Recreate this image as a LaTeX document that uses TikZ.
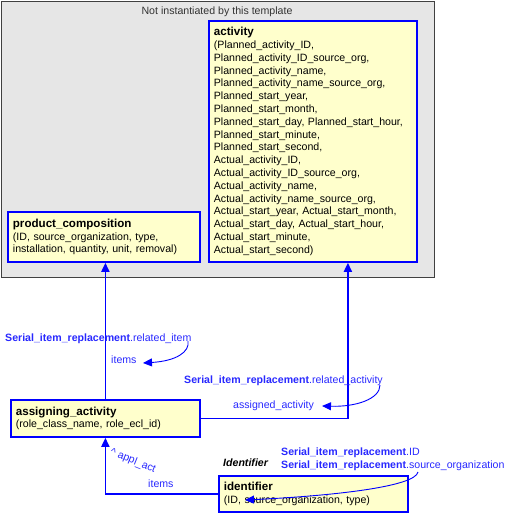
\documentclass[tikz,border=0pt]{standalone}
\usepackage{fontspec}
\setmainfont{Liberation Sans}
\usetikzlibrary{arrows.meta}
\definecolor{boxfill}{RGB}{255,255,204}
\definecolor{boxblue}{RGB}{0,0,255}
\definecolor{lblblue}{RGB}{40,40,255}
\definecolor{greyfill}{RGB}{230,230,230}
\definecolor{greyline}{RGB}{64,64,64}
\tikzset{
  ent/.style={draw=boxblue, fill=boxfill, line width=1.8pt, anchor=north west,
    inner xsep=5pt, inner ysep=2pt, align=left, font=\fontsize{10.6}{12.8}\selectfont},
  ttl/.style={font=\bfseries\fontsize{11.6}{13}\selectfont},
  conn/.style={draw=boxblue, line width=1.8pt, -{Triangle[length=9pt,width=8pt]}},
  lbl/.style={text=lblblue, font=\fontsize{10.6}{12}\selectfont, inner sep=0pt, anchor=west},
  cur/.style={draw=boxblue, line width=0.9pt, -{Triangle[length=9pt,width=8pt]}},
}
\begin{document}
\begin{tikzpicture}[x=1pt,y=-1pt]
\useasboundingbox (0,0) rectangle (506,513);
% grey container
\node[draw=greyline, fill=greyfill, line width=1pt, anchor=north west, minimum width=433, minimum height=276, inner sep=0pt] (grey) at (1,1) {};
\node[font=\fontsize{10.6}{12}\selectfont, text=black!80] (nit) at (217,12) {Not instantiated by this template};
% entities
\node[ent, text width=198, minimum height=241] (act) at (208,20) {{\bfseries\fontsize{11.6}{13}\selectfont activity}\\(Planned\_activity\_ID,\\Planned\_activity\_ID\_source\_org,\\Planned\_activity\_name,\\Planned\_activity\_name\_source\_org,\\Planned\_start\_year,\\Planned\_start\_month,\\Planned\_start\_day, Planned\_start\_hour,\\Planned\_start\_minute,\\Planned\_start\_second,\\Actual\_activity\_ID,\\Actual\_activity\_ID\_source\_org,\\Actual\_activity\_name,\\Actual\_activity\_name\_source\_org,\\Actual\_start\_year, Actual\_start\_month,\\Actual\_start\_day, Actual\_start\_hour,\\Actual\_start\_minute,\\Actual\_start\_second)};
\node[ent, text width=182, minimum height=50] (pc) at (7,211) {{\bfseries\fontsize{11.6}{13}\selectfont product\_composition}\\(ID, source\_organization, type,\\installation, quantity, unit, removal)};
\node[ent, text width=179, minimum height=37] (aa) at (10,399) {{\bfseries\fontsize{11.6}{13}\selectfont assigning\_activity}\\(role\_class\_name, role\_ecl\_id)};
\node[ent, text width=179, minimum height=36] (id) at (218,475) {{\bfseries\fontsize{11.6}{13}\selectfont identifier}\\(ID, source\_organization, type)};
% connectors
\coordinate (actin) at ([xshift=35]act.south);
\draw[conn] (aa.north) -- (aa.north |- pc.south);
\draw[conn] (aa.east) -| (actin);
\draw[conn] (id.west) -| (aa.south);
% labels
\node[lbl] (l1) at (5,339) {\textbf{Serial\_item\_replacement}.related\_item};
\node[lbl] (l2) at (111,360) {items};
\node[lbl] (l3) at (184,381) {\textbf{Serial\_item\_replacement}.related\_activity};
\node[lbl] (l4) at (233,406) {assigned\_activity};
\node[lbl, anchor=center, rotate=-22] (l5) at (133,461) {\textasciicircum\ appl\_act};
\node[lbl] (l6) at (148,484) {items};
\node[lbl, text=black] (l7) at (223,463) {\textbf{\textit{Identifier}}};
\node[lbl] (l8) at (281,453) {\textbf{Serial\_item\_replacement}.ID};
\node[lbl] (l9) at (281,466) {\textbf{Serial\_item\_replacement}.source\_organization};
% curved role arrows
\coordinate (s1) at (188,341);
\coordinate (s2) at (380,385);
\coordinate (s3) at (418,472);
\coordinate (c1) at (143,363);
\coordinate (c2) at (322,406);
\coordinate (c3) at (245,500);
\draw[cur] (s1) .. controls (190,352) and (176,361) .. (c1);
\draw[cur] (s2) .. controls (380,399) and (356,407) .. (c2);
\draw[cur] (s3) .. controls (415,487) and (330,496) .. (c3);
\end{tikzpicture}
\end{document}
